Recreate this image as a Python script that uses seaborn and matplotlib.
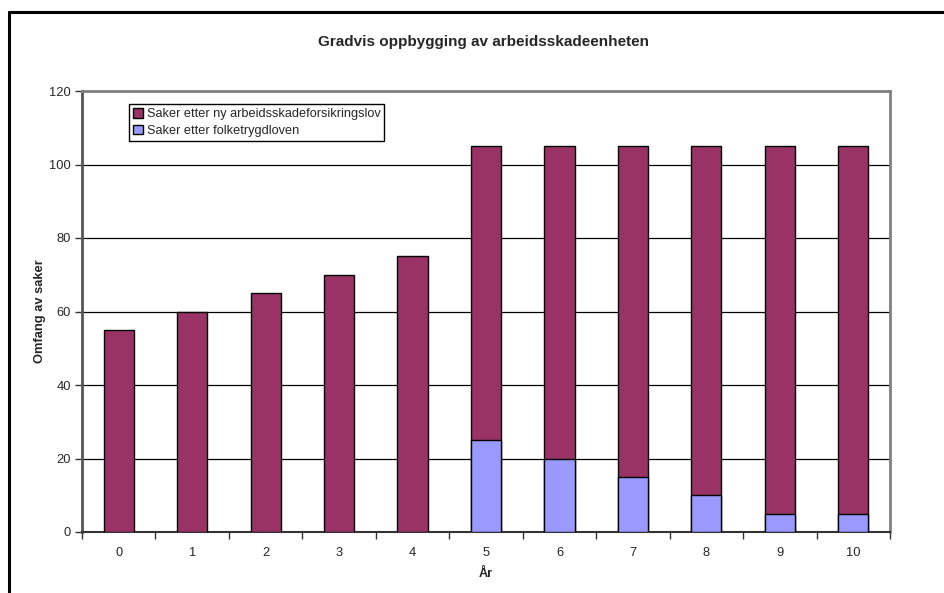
import matplotlib
matplotlib.use("Agg")
import matplotlib.pyplot as plt
from matplotlib.patches import Patch
from matplotlib.lines import Line2D
import seaborn as sns
import pandas as pd

years = ["0", "1", "2", "3", "4", "5", "6", "7", "8", "9", "10"]
ny_lov = [55, 60, 65, 70, 75, 80, 85, 90, 95, 100, 100]
folketrygd = [0, 0, 0, 0, 0, 25, 20, 15, 10, 5, 5]
totals = [a + b for a, b in zip(ny_lov, folketrygd)]

label_ny = "Saker etter ny arbeidsskadeforsikringslov"
label_ft = "Saker etter folketrygdloven"
col_ny = "#993366"
col_ft = "#9999FF"

sns.set_style("white")
plt.rcParams["font.family"] = ["Liberation Sans", "DejaVu Sans"]

df = pd.DataFrame({"År": years, "total": totals, "folketrygd": folketrygd})

fig = plt.figure(figsize=(9.44, 5.93), dpi=100)
ax = fig.add_axes([82 / 944, 1 - 532 / 593, 808 / 944, 441 / 593])

sns.barplot(data=df, x="År", y="total", color=col_ny, saturation=1,
            width=0.41, edgecolor="black", linewidth=1, ax=ax, zorder=3)
sns.barplot(data=df[df["folketrygd"] > 0], x="År", y="folketrygd",
            order=years, color=col_ft, saturation=1,
            width=0.41, edgecolor="black", linewidth=1, ax=ax, zorder=4)

ax.set_xlim(-0.5, len(years) - 0.5)
ax.set_ylim(0, 120)
ax.set_yticks(range(0, 121, 20))
ax.yaxis.grid(True, color="black", linewidth=0.9, zorder=1)
ax.set_axisbelow(True)

# category boundary ticks on the x axis
ax.set_xticks([i - 0.5 for i in range(len(years) + 1)], minor=True)
ax.tick_params(axis="x", which="minor", length=5, width=1, color="#333333", direction="out")
ax.tick_params(axis="x", which="major", length=0, pad=11, labelsize=9.3)
ax.tick_params(axis="y", length=5, width=1, color="#333333", direction="out", pad=3, labelsize=9.3)
ax.tick_params(left=True, bottom=True, which="both")

for side in ["left", "top", "right"]:
    ax.spines[side].set_color("#808080")
    ax.spines[side].set_linewidth(2)
ax.spines["bottom"].set_color("#333333")
ax.spines["bottom"].set_linewidth(1.5)
ax.spines["left"].set_color("#555555")

ax.set_xlabel("År", fontsize=9.3, fontweight="bold", labelpad=6)
ax.set_ylabel("Omfang av saker", fontsize=9.3, fontweight="bold", labelpad=2)
fig.text(483 / 944, 1 - 42 / 593, "Gradvis oppbygging av arbeidsskadeenheten",
         ha="center", va="center", fontsize=11, fontweight="bold")

handles = [Patch(facecolor=col_ny, edgecolor="black", linewidth=1),
           Patch(facecolor=col_ft, edgecolor="black", linewidth=1)]
leg = ax.legend(handles, [label_ny, label_ft], loc="upper left",
                bbox_to_anchor=(47 / 808, 1 - 13 / 441), fontsize=9.2,
                handlelength=0.8, handleheight=0.8, handletextpad=0.3,
                labelspacing=0.35, borderpad=0.3, borderaxespad=0,
                fancybox=False, frameon=True, framealpha=1)
leg.get_frame().set_edgecolor("black")
leg.get_frame().set_linewidth(1)

# outer chart-area border (top and left edges)
fig.add_artist(Line2D([9 / 944, 1], [1 - 12 / 593, 1 - 12 / 593],
                      color="black", linewidth=2.2, transform=fig.transFigure))
fig.add_artist(Line2D([9 / 944, 9 / 944], [0, 1 - 12 / 593],
                      color="black", linewidth=2.2, transform=fig.transFigure))

fig.savefig("out.png", dpi=100, facecolor="white")
